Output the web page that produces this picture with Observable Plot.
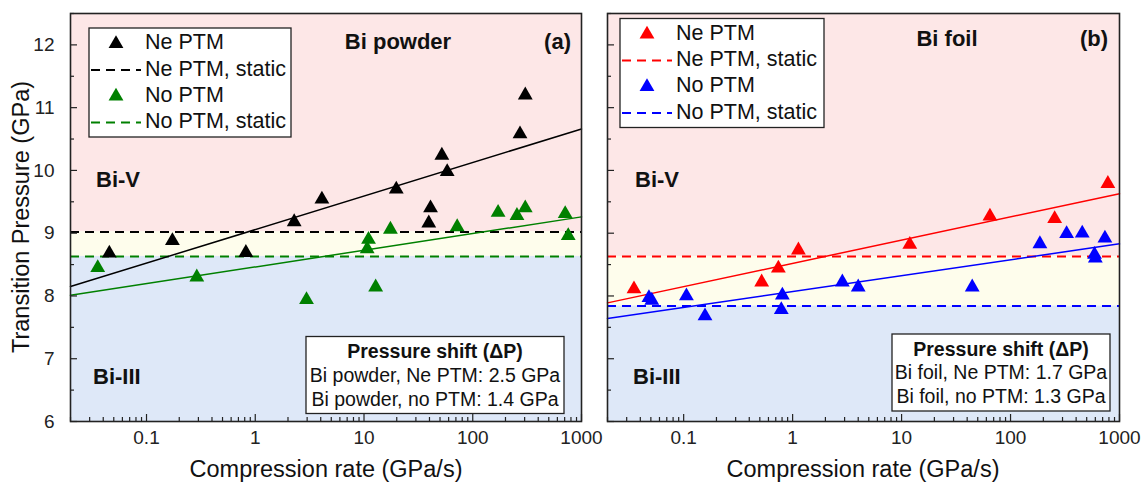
<!DOCTYPE html>
<html><head><meta charset="utf-8">
<script src="https://cdn.jsdelivr.net/npm/d3@7"></script>
<script src="https://cdn.jsdelivr.net/npm/@observablehq/plot@0.6"></script>
<style>
body{margin:0;background:#fff;}
#wrap{position:relative;width:1142px;height:488px;overflow:hidden;background:#fff;}
#wrap > svg, #wrap > div{position:absolute;top:0;}
</style></head><body><div id="wrap"></div>
<script>
// ---------- data ----------
const xDomain = [0.02, 1000];
const yDomain = [6, 12.5];
const xMajor = [0.1, 1, 10, 100, 1000];
const xLabels = ["0.1", "1", "10", "100", "1000"];
const yMajor = [6, 7, 8, 9, 10, 11, 12];
const yLabels = ["6", "7", "8", "9", "10", "11", "12"];
const yMinor = [6.5, 7.5, 8.5, 9.5, 10.5, 11.5, 12.5];

// (a) Bi powder
const rateNePowder = [0.0455, 0.173, 0.82, 2.28, 4.1, 19.8, 40.9, 39.4, 52, 58.2, 272, 304];
const pNePowder    = [8.68, 8.88, 8.69, 9.18, 9.54, 9.70, 9.40, 9.16, 10.24, 9.98, 10.58, 11.20];
const rateNoPowder = [0.0356, 0.29, 2.96, 11.0, 10.7, 12.8, 17.5, 71.9, 171, 255, 304, 708, 755];
const pNoPowder    = [8.45, 8.30, 7.94, 8.90, 8.75, 8.14, 9.06, 9.10, 9.33, 9.28, 9.40, 9.31, 8.96];
const fitRate = [0.02, 1000];
const fitNePowder = [8.15, 10.66];
const fitNoPowder = [8.01, 9.26];
const staticNePowder = 9.02;
const staticNoPowder = 8.63;

// (b) Bi foil
const rateNeFoil = [0.035, 0.52, 0.74, 1.13, 11.9, 64.7, 254, 782];
const pNeFoil    = [8.11, 8.22, 8.44, 8.73, 8.82, 9.27, 9.23, 9.79];
const rateNoFoil = [0.048, 0.051, 0.106, 0.157, 0.805, 0.787, 2.86, 4.0, 44.5, 186, 327, 455, 590, 600, 735];
const pNoFoil    = [7.97, 7.93, 8.00, 7.68, 8.01, 7.78, 8.22, 8.14, 8.14, 8.83, 8.99, 9.00, 8.66, 8.60, 8.92];
const fitNeFoil = [7.89, 9.63];
const fitNoFoil = [7.64, 8.83];
const staticNeFoil = 8.63;
const staticNoFoil = 7.84;

const legendA = ["Ne PTM", "Ne PTM, static", "No PTM", "No PTM, static"];
const legendB = ["Ne PTM", "Ne PTM, static", "No PTM", "No PTM, static"];
const boxA = ["Pressure shift (\u0394P)", "Bi powder, Ne PTM: 2.5 GPa", "Bi powder, no PTM: 1.4 GPa"];
const boxB = ["Pressure shift (\u0394P)", "Bi foil, Ne PTM: 1.7 GPa", "Bi foil, no PTM: 1.3 GPa"];

// ---------- styling ----------
const FONT = "'Liberation Sans', Arial, Helvetica, sans-serif";
const PINK = "#fde7e7", YELLOW = "#fefdec", BLUE = "#dee8f8";
const H = 488, MT = 13, MB = 67;
const xMinor = d3.scaleLog().domain(xDomain).ticks().filter(t => !xMajor.includes(t) && t >= xDomain[0] && t <= xDomain[1]);
const xLabelMap = new Map(xMajor.map((v, i) => [v, xLabels[i]]));
const yLabelMap = new Map(yMajor.map((v, i) => [v, yLabels[i]]));

function pts(rates, ps) { return rates.map((r, i) => ({r, p: ps[i]})); }

function panel({width, marginLeft, marginRight, showY, bands, sets, fits, statics}) {
  const fw = width - marginLeft - marginRight, fh = H - MT - MB;
  const tickStyle = {stroke: "#222", strokeWidth: 1.2};
  return Plot.plot({
    width, height: H, marginLeft, marginRight, marginTop: MT, marginBottom: MB,
    x: {type: "log", domain: xDomain, axis: null},
    y: {domain: yDomain, axis: null},
    style: {background: "transparent", overflow: "visible", fontFamily: FONT, fontSize: "19px", color: "#222"},
    marks: [
      Plot.rect([0], {x1: xDomain[0], x2: xDomain[1], y1: bands[1], y2: yDomain[1], fill: PINK}),
      Plot.rect([0], {x1: xDomain[0], x2: xDomain[1], y1: bands[0], y2: bands[1], fill: YELLOW}),
      Plot.rect([0], {x1: xDomain[0], x2: xDomain[1], y1: yDomain[0], y2: bands[0], fill: BLUE}),
      ...statics.map(s => Plot.ruleY([s.v], {stroke: s.c, strokeWidth: 2, strokeDasharray: "9,6"})),
      ...fits.map(f => Plot.line(pts(fitRate, f.v), {x: "r", y: "p", stroke: f.c, strokeWidth: 1.5})),
      ...sets.map(s => Plot.dot(pts(s.r, s.p), {x: "r", y: "p", symbol: "triangle", r: 5.5, fill: s.c, stroke: "none"})),
      // inward ticks
      Plot.tickX(xMajor, {x: d => d, insetTop: fh - 7, ...tickStyle}),
      Plot.tickX(xMinor, {x: d => d, insetTop: fh - 4, ...tickStyle}),
      Plot.tickY(yMajor, {y: d => d, insetRight: fw - 7, ...tickStyle}),
      Plot.tickY(yMinor, {y: d => d, insetRight: fw - 4, ...tickStyle}),
      Plot.axisX({ticks: xMajor, tickSize: 0, tickPadding: 9, tickFormat: d => xLabelMap.get(d), label: null, fontSize: 19, fill: "#222"}),
      ...(showY ? [Plot.axisY({ticks: yMajor, tickSize: 0, tickPadding: 16, tickFormat: d => yLabelMap.get(d), label: null, fontSize: 19, fill: "#222"})] : []),
      Plot.frame({stroke: "#222", strokeWidth: 1.6})
    ]
  });
}

const wrap = document.getElementById("wrap");

const pA = panel({
  width: 590, marginLeft: 70, marginRight: 9, showY: true,
  bands: [staticNoPowder, staticNePowder],
  statics: [{v: staticNePowder, c: "#000"}, {v: staticNoPowder, c: "#008000"}],
  fits: [{v: fitNePowder, c: "#000"}, {v: fitNoPowder, c: "#008000"}],
  sets: [{r: rateNePowder, p: pNePowder, c: "#000"}, {r: rateNoPowder, p: pNoPowder, c: "#008000"}]
});
pA.style.left = "0px";
wrap.appendChild(pA);

const pB = panel({
  width: 552, marginLeft: 17, marginRight: 23, showY: false,
  bands: [staticNoFoil, staticNeFoil],
  statics: [{v: staticNeFoil, c: "#ff0000"}, {v: staticNoFoil, c: "#0000ff"}],
  fits: [{v: fitNeFoil, c: "#ff0000"}, {v: fitNoFoil, c: "#0000ff"}],
  sets: [{r: rateNeFoil, p: pNeFoil, c: "#ff0000"}, {r: rateNoFoil, p: pNoFoil, c: "#0000ff"}]
});
pB.style.left = "590px";
wrap.appendChild(pB);

// ---------- annotations overlay ----------
const ov = d3.select(wrap).append("svg")
  .attr("width", 1142).attr("height", 488)
  .style("left", "0px").style("pointer-events", "none")
  .style("font-family", FONT).style("fill", "#111");

// axis titles
ov.append("text").attr("transform", "translate(23,217) rotate(-90)")
  .attr("text-anchor", "middle").attr("dominant-baseline", "middle")
  .style("font-size", "23.5px").text("Transition Pressure (GPa)");
[326, 863].forEach(cx => ov.append("text").attr("x", cx).attr("y", 471)
  .attr("text-anchor", "middle").attr("dominant-baseline", "middle")
  .style("font-size", "23.5px").text("Compression rate (GPa/s)"));

function bold(x, y, t, anchor = "start") {
  ov.append("text").attr("x", x).attr("y", y).attr("text-anchor", anchor)
    .attr("dominant-baseline", "middle").style("font-size", "22px").style("font-weight", "bold").text(t);
}
bold(398, 43, "Bi powder", "middle");
bold(571, 43, "(a)", "end");
bold(96, 181, "Bi-V");
bold(93, 378, "Bi-III");
bold(947, 40, "Bi foil", "middle");
bold(1108, 40, "(b)", "end");
bold(635, 181, "Bi-V");
bold(633, 378, "Bi-III");

const tri = d3.symbol(d3.symbolTriangle, Math.PI * 5.5 * 5.5)();
function legend(x0, y0, w, labels, cNe, cNo) {
  ov.append("rect").attr("x", x0).attr("y", y0).attr("width", w).attr("height", 109)
    .attr("fill", "#fff").attr("stroke", "#222").attr("stroke-width", 1.3);
  const colors = [cNe, cNe, cNo, cNo];
  labels.forEach((lab, i) => {
    const cy = y0 + 15.8 + i * 26.2;
    if (i % 2 === 0) {
      ov.append("path").attr("d", tri).attr("transform", `translate(${x0 + 27},${cy})`).attr("fill", colors[i]);
    } else {
      ov.append("line").attr("x1", x0 + 2).attr("x2", x0 + 52).attr("y1", cy).attr("y2", cy)
        .attr("stroke", colors[i]).attr("stroke-width", 2).attr("stroke-dasharray", "9,6");
    }
    ov.append("text").attr("x", x0 + 56).attr("y", cy).attr("dominant-baseline", "middle")
      .style("font-size", "21.5px").text(lab);
  });
}
legend(89, 28, 202, legendA, "#000", "#008000");
legend(620, 18.5, 204, legendB, "#ff0000", "#0000ff");

function shiftBox(x0, y0, w, lines) {
  ov.append("rect").attr("x", x0).attr("y", y0).attr("width", w).attr("height", 77)
    .attr("fill", "#fff").attr("stroke", "#222").attr("stroke-width", 1.3);
  lines.forEach((t, i) => {
    ov.append("text").attr("x", x0 + w / 2).attr("y", y0 + 16.5 + i * 23.8)
      .attr("text-anchor", "middle").attr("dominant-baseline", "middle")
      .style("font-size", "19.5px").style("font-weight", i === 0 ? "bold" : "normal").text(t);
  });
}
shiftBox(306, 336.5, 258, boxA);
shiftBox(892, 334, 218, boxB);
</script></body></html>
